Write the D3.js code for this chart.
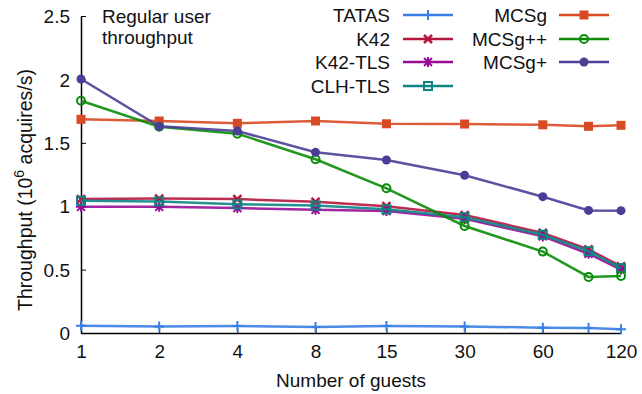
<!DOCTYPE html>
<html>
<head>
<meta charset="utf-8">
<script src="https://cdn.jsdelivr.net/npm/d3@7"></script>
<style>
  body { margin: 0; background: #fff; }
  text { font-family: "Liberation Sans", Arial, sans-serif; fill: #111; }
</style>
</head>
<body>
<div class="chart"></div>
<script>
const width = 642
const height = 394

// guest counts (x) and throughput values (10^6 acquires/s)
const guests = [1, 2, 4, 8, 15, 30, 60, 90, 120]
const xTicks = [1, 2, 4, 8, 15, 30, 60, 120]
const yTicks = [0, 0.5, 1, 1.5, 2, 2.5]

const tatas   = [0.057, 0.052, 0.055, 0.047, 0.055, 0.052, 0.042, 0.04, 0.03]
const k42     = [1.056, 1.06, 1.056, 1.035, 1.0, 0.93, 0.79, 0.66, 0.525]
const k42Tls  = [0.995, 0.995, 0.985, 0.972, 0.962, 0.9, 0.762, 0.625, 0.5]
const clhTls  = [1.043, 1.038, 1.015, 1.005, 0.975, 0.913, 0.775, 0.645, 0.512]
const mcsg    = [1.685, 1.672, 1.654, 1.672, 1.65, 1.648, 1.642, 1.63, 1.638]
const mcsgPP  = [1.832, 1.627, 1.572, 1.37, 1.141, 0.844, 0.642, 0.442, 0.45]
const mcsgP   = [2.003, 1.63, 1.593, 1.425, 1.364, 1.244, 1.075, 0.967, 0.965]

const series = [
  { name: 'TATAS',   values: tatas,  color: '#3a7ee6', marker: 'plus',     col: 0, row: 0 },
  { name: 'K42',     values: k42,    color: '#b5173e', marker: 'cross',    col: 0, row: 1 },
  { name: 'K42-TLS', values: k42Tls, color: '#980d98', marker: 'star',     col: 0, row: 2 },
  { name: 'CLH-TLS', values: clhTls, color: '#0d8585', marker: 'square',   col: 0, row: 3 },
  { name: 'MCSg',    values: mcsg,   color: '#d84a24', marker: 'fsquare',  col: 1, row: 0 },
  { name: 'MCSg++',  values: mcsgPP, color: '#0a8c0a', marker: 'circle',   col: 1, row: 1 },
  { name: 'MCSg+',   values: mcsgP,  color: '#4a3f96', marker: 'fcircle',  col: 1, row: 2 },
]

const x = d3.scaleLog().base(2).domain([1, 120]).range([81, 621])
const y = d3.scaleLinear().domain([0, 2.5]).range([333, 16])

const svg = d3.select('div.chart')
  .append('svg')
  .attr('width', width)
  .attr('height', height)

// axes
const xAxis = svg.append('g')
  .attr('transform', `translate(0,${y(0)})`)
  .call(d3.axisBottom(x).tickValues(xTicks).tickFormat(d3.format('d')).tickSizeInner(-5).tickSizeOuter(0).tickPadding(12))
const yAxis = svg.append('g')
  .attr('transform', `translate(${x(1)},0)`)
  .call(d3.axisLeft(y).tickValues(yTicks).tickFormat(d => d).tickSizeInner(-5).tickSizeOuter(0).tickPadding(11))

;[xAxis, yAxis].forEach(a => {
  a.select('.domain').attr('stroke', '#000').attr('stroke-width', 1.5)
  a.selectAll('.tick line').attr('stroke', '#000').attr('stroke-width', 1)
  a.selectAll('.tick text').attr('font-size', 19).attr('fill', '#111')
    .style('font-family', '"Liberation Sans", Arial, sans-serif')
})
xAxis.selectAll('.tick text').attr('dy', '0.71em')
yAxis.selectAll('.tick text').attr('dy', '0.35em')

svg.append('text')
  .attr('x', 351)
  .attr('y', 387)
  .attr('text-anchor', 'middle')
  .attr('font-size', 19)
  .text('Number of guests')

const yLabel = svg.append('text')
  .attr('transform', 'translate(32,311) rotate(-90)')
  .attr('text-anchor', 'start')
  .attr('font-size', 19.5)
yLabel.append('tspan').text('Throughput (10')
yLabel.append('tspan').attr('font-size', 14).attr('dy', -8).text('6')
yLabel.append('tspan').attr('dy', 8).text(' acquires/s)')

svg.append('text').attr('x', 102).attr('y', 23).attr('font-size', 19).text('Regular user')
svg.append('text').attr('x', 102).attr('y', 44).attr('font-size', 19).text('throughput')

function drawMarker(g, type, color, cx, cy) {
  const s = 4
  if (type === 'plus') {
    g.append('path').attr('d', `M${cx - s - 1},${cy}H${cx + s + 1}M${cx},${cy - s - 1}V${cy + s + 1}`)
      .attr('stroke', color).attr('stroke-width', 2)
  } else if (type === 'cross') {
    g.append('path').attr('d', `M${cx - s},${cy - s}L${cx + s},${cy + s}M${cx - s},${cy + s}L${cx + s},${cy - s}`)
      .attr('stroke', color).attr('stroke-width', 2.5)
  } else if (type === 'star') {
    g.append('path').attr('d', `M${cx - s},${cy - s}L${cx + s},${cy + s}M${cx - s},${cy + s}L${cx + s},${cy - s}M${cx - s - 1},${cy}H${cx + s + 1}M${cx},${cy - s - 1}V${cy + s + 1}`)
      .attr('stroke', color).attr('stroke-width', 2)
  } else if (type === 'square') {
    g.append('rect').attr('x', cx - s).attr('y', cy - s).attr('width', 2 * s).attr('height', 2 * s)
      .attr('fill', 'none').attr('stroke', color).attr('stroke-width', 2)
  } else if (type === 'fsquare') {
    g.append('rect').attr('x', cx - s - 0.5).attr('y', cy - s - 0.5).attr('width', 2 * s + 1).attr('height', 2 * s + 1)
      .attr('fill', color)
  } else if (type === 'circle') {
    g.append('circle').attr('cx', cx).attr('cy', cy).attr('r', s)
      .attr('fill', 'none').attr('stroke', color).attr('stroke-width', 2)
  } else if (type === 'fcircle') {
    g.append('circle').attr('cx', cx).attr('cy', cy).attr('r', s + 0.5).attr('fill', color)
  }
}

const line = d3.line()
  .x(d => x(d[0]))
  .y(d => y(d[1]))

series.forEach(s => {
  const pts = guests.map((gv, i) => [gv, s.values[i]])
  const g = svg.append('g')
  g.append('path')
    .datum(pts)
    .attr('d', line)
    .attr('fill', 'none')
    .attr('stroke', s.color)
    .attr('stroke-width', 2.5)
    .attr('stroke-opacity', 0.9)
  pts.forEach(p => drawMarker(g, s.marker, s.color, x(p[0]), y(p[1])))
})

// legend
const legendCols = [
  { textRight: 390, lineStart: 403, lineEnd: 453 },
  { textRight: 547, lineStart: 559, lineEnd: 609 },
]
const legendRowY = [15, 39, 62, 86]

series.forEach(s => {
  const c = legendCols[s.col]
  const ly = legendRowY[s.row]
  const g = svg.append('g')
  g.append('text')
    .attr('x', c.textRight)
    .attr('y', ly + 7)
    .attr('text-anchor', 'end')
    .attr('font-size', 19)
    .text(s.name)
  g.append('line')
    .attr('x1', c.lineStart).attr('x2', c.lineEnd)
    .attr('y1', ly).attr('y2', ly)
    .attr('stroke', s.color).attr('stroke-width', 2.5)
  drawMarker(g, s.marker, s.color, (c.lineStart + c.lineEnd) / 2, ly)
})
</script>
</body>
</html>
